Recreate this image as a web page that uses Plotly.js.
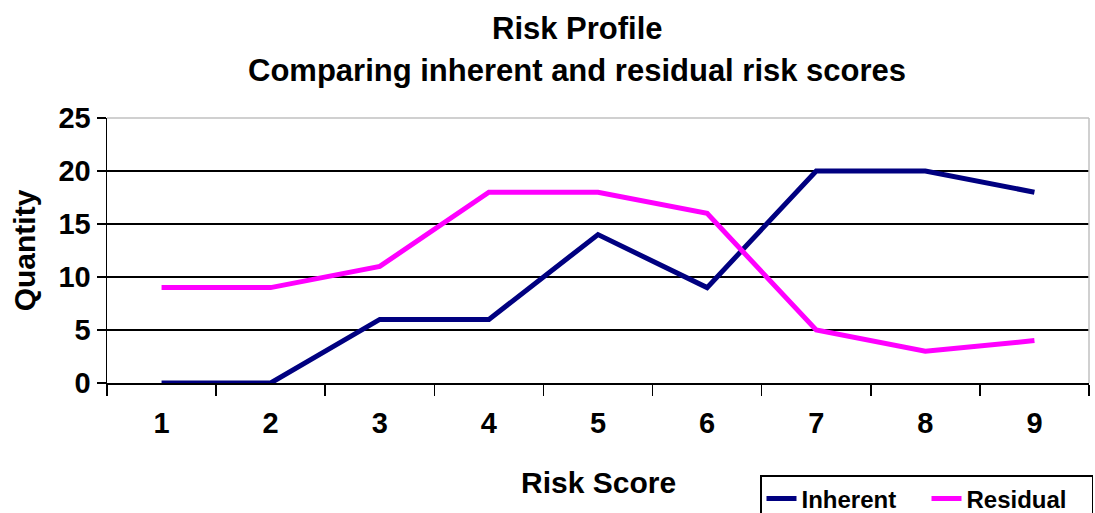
<!DOCTYPE html>
<html>
<head>
<meta charset="utf-8">
<script src="https://cdn.plot.ly/plotly-3.0.1.min.js"></script>
<style>html,body{margin:0;padding:0;background:#fff;}#chart{width:1095px;height:513px;}</style>
</head>
<body>
<div id="chart"></div>
<script>
const categories = ["1","2","3","4","5","6","7","8","9"];
const inherent = [0, 0, 6, 6, 14, 9, 20, 20, 18];
const residual = [9, 9, 11, 18, 18, 16, 5, 3, 4];
const yTicks = [0, 5, 10, 15, 20, 25];

const font = {family: "Liberation Sans, Arial, sans-serif", color: "#000"};

const traces = [
  {x: categories, y: inherent, type: "scatter", mode: "lines", name: "<b>Inherent</b>",
   line: {color: "#000080", width: 5}},
  {x: categories, y: residual, type: "scatter", mode: "lines", name: "<b>Residual</b>",
   line: {color: "#FF00FF", width: 5}}
];

const layout = {
  width: 1095, height: 513,
  margin: {l: 107, r: 6, t: 118, b: 130, autoexpand: false},
  paper_bgcolor: "#fff", plot_bgcolor: "#fff",
  font: Object.assign({size: 28}, font),
  showlegend: true,
  legend: {orientation: "h", xref: "container", yref: "container", x: 760/1095, y: 1 - 475/513,
    xanchor: "left", yanchor: "top",
    bordercolor: "#000", borderwidth: 1.5, bgcolor: "#fff",
    font: Object.assign({size: 24}, font), tracegroupgap: 0, itemwidth: 30, entrywidth: 120},
  xaxis: {
    type: "category", range: [-0.5, 8.5], automargin: false,
    tickson: "boundaries", ticks: "outside", ticklen: 11, tickwidth: 1.5, tickcolor: "#000",
    ticklabelstandoff: 14,
    showline: true, linecolor: "#000", linewidth: 1.5, showgrid: false, zeroline: false,
    tickfont: Object.assign({size: 29}, font), tickprefix: "<b>", ticksuffix: "</b>"
  },
  yaxis: {
    range: [0, 25], tickvals: yTicks, ticktext: yTicks.map(v => "<b>" + v + "</b>"),
    automargin: false,
    ticks: "outside", ticklen: 9, tickwidth: 1.5, tickcolor: "#000",
    showline: true, linecolor: "#000", linewidth: 1.5,
    showgrid: true, gridcolor: "#000", gridwidth: 1.3, zeroline: false,
    tickfont: Object.assign({size: 29}, font),
    title: {text: "<b>Quantity</b>", font: Object.assign({size: 30}, font), standoff: 14}
  },
  shapes: [
    {type: "line", xref: "paper", yref: "paper", x0: 0, x1: 1, y0: 1, y1: 1, line: {color: "#c0c0c0", width: 1.5}},
    {type: "line", xref: "paper", yref: "paper", x0: 1, x1: 1, y0: 0, y1: 1, line: {color: "#c0c0c0", width: 1.5}}
  ],
  annotations: [
    {text: "<b>Risk Profile</b>", xref: "paper", yref: "paper", x: (577-107)/982, y: (383-28)/265,
     xanchor: "center", yanchor: "middle", showarrow: false, font: Object.assign({size: 31}, font)},
    {text: "<b>Comparing inherent and residual risk scores</b>", xref: "paper", yref: "paper", x: (577-107)/982, y: (383-70)/265,
     xanchor: "center", yanchor: "middle", showarrow: false, font: Object.assign({size: 31}, font)},
    {text: "<b>Risk Score</b>", xref: "paper", yref: "paper", x: (598-107)/982, y: (383-482)/265,
     xanchor: "center", yanchor: "middle", showarrow: false, font: Object.assign({size: 30}, font)}
  ]
};

Plotly.newPlot("chart", traces, layout, {displayModeBar: false, staticPlot: true});
</script>
</body>
</html>
